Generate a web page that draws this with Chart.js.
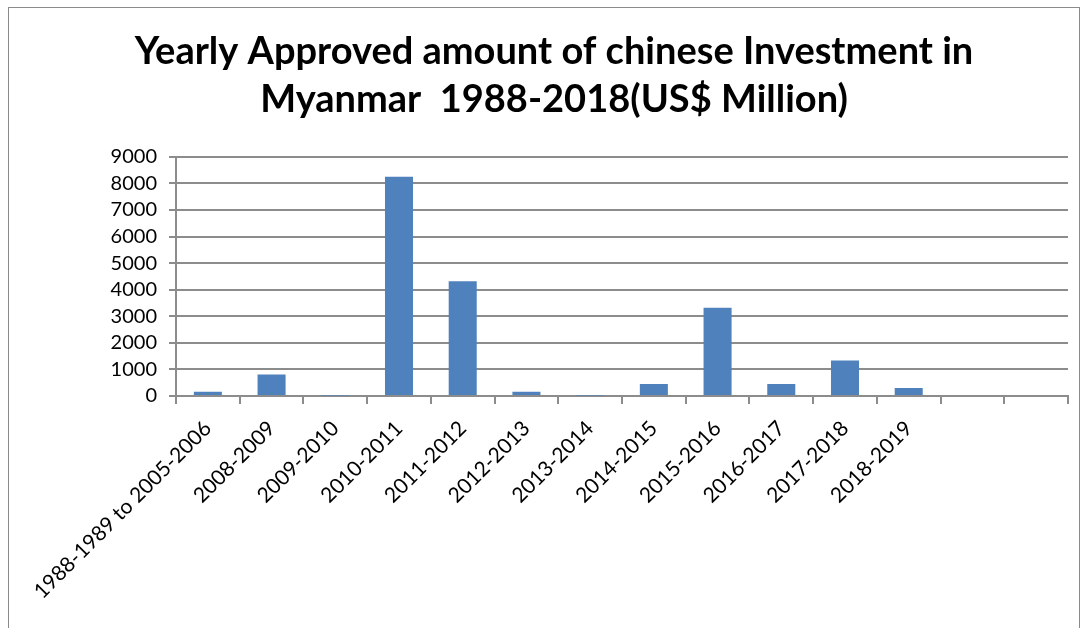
<!DOCTYPE html>
<html>
<head>
<meta charset="utf-8">
<script src="https://cdn.jsdelivr.net/npm/chart.js@4/dist/chart.umd.min.js"></script>
<style>
  html, body { margin: 0; padding: 0; background: #fff; }
  #wrap { position: relative; width: 1085px; height: 628px; }
  #frame { position: absolute; left: 8px; top: 7px; width: 1072px; height: 640px; border: 1px solid #8a8a8a; box-sizing: border-box; }
  canvas { position: absolute; left: 0; top: 0; }
</style>
</head>
<body>
<div id="wrap">
  <div id="frame"></div>
  <canvas id="myChart" width="1085" height="628"></canvas>
</div>
<script>
  // data
  const categories = [
    '1988-1989 to 2005-2006', '2008-2009', '2009-2010', '2010-2011', '2011-2012',
    '2012-2013', '2013-2014', '2014-2015', '2015-2016', '2016-2017',
    '2017-2018', '2018-2019', '', ''
  ];
  const investment = [160, 810, 20, 8250, 4320, 160, 20, 450, 3320, 450, 1340, 300, null, null];
  const yTicks = [0, 1000, 2000, 3000, 4000, 5000, 6000, 7000, 8000, 9000];
  const titleLines = ['Yearly Approved amount of chinese Investment in', 'Myanmar  1988-2018(US$ Million)'];

  const gridColor = '#8c8c8c';

  // setup
  const data = {
    labels: categories,
    datasets: [{
      label: 'Investment',
      data: investment,
      backgroundColor: '#4F81BD',
      borderColor: '#4F81BD',
      borderWidth: 0,
      barPercentage: 0.88,
      categoryPercentage: 0.5
    }]
  };

  // config
  const config = {
    type: 'bar',
    data,
    options: {
      responsive: false,
      animation: false,
      layout: { padding: { left: 40, right: 17, top: 0, bottom: 0 } },
      plugins: {
        legend: { display: false },
        tooltip: { enabled: false },
        title: {
          display: true,
          text: titleLines,
          color: '#000',
          font: { family: 'Lato', size: 38, weight: 'bold', lineHeight: 1.26 },
          padding: { top: 28, bottom: 33 }
        }
      },
      scales: {
        x: {
          grid: {
            display: true,
            offset: true,
            drawOnChartArea: false,
            drawTicks: true,
            tickLength: 8,
            color: gridColor,
            lineWidth: 2
          },
          border: { display: true, color: gridColor, width: 2 },
          ticks: {
            autoSkip: false,
            maxRotation: 45,
            minRotation: 45,
            color: '#000',
            padding: 12,
            font: { family: 'Lato', size: 21 }
          },
          afterFit: function(scale) { scale.height = 232; }
        },
        y: {
          min: 0,
          max: 9000,
          afterBuildTicks: function(scale) {
            scale.ticks = yTicks.map(v => ({ value: v }));
          },
          grid: {
            color: gridColor,
            lineWidth: 2,
            drawTicks: true,
            tickLength: 7
          },
          border: { display: true, color: gridColor, width: 2 },
          ticks: {
            autoSkip: false,
            color: '#000',
            padding: 12,
            font: { family: 'Lato', size: 20 },
            callback: function(value) { return String(value); }
          },
          afterFit: function(scale) { scale.width = 136; }
        }
      }
    }
  };

  // render init block
  const myChart = new Chart(
    document.getElementById('myChart'),
    config
  );
</script>
</body>
</html>
